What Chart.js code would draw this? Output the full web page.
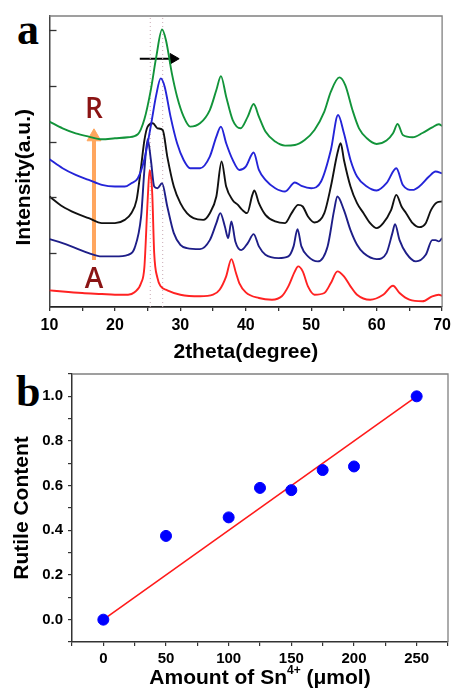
<!DOCTYPE html>
<html>
<head>
<meta charset="utf-8">
<script src="https://cdn.jsdelivr.net/npm/chart.js@4.4.1/dist/chart.umd.min.js"></script>
<style>
body{margin:0;background:#fff;width:456px;height:689px;position:relative;overflow:hidden;}
canvas{position:absolute;left:0;}
#xrd{top:0;}
#rutile{top:360px;}
.panel{position:absolute;font-family:"Liberation Serif","DejaVu Serif",serif;font-weight:bold;font-size:44px;line-height:1;}
</style>
</head>
<body>
<div class="panel" style="left:17px;top:8px">a</div>
<div class="panel" style="left:16px;top:370px">b</div>
<canvas id="xrd" width="456" height="365"></canvas>
<canvas id="rutile" width="456" height="329"></canvas>
<script>
//////////////////////////////// DATA : XRD PATTERNS (a)

// 2theta / intensity (a.u.) for each pattern, bottom (anatase) to top (rutile)
let redX = [10,12,15,18,20,22,23,24,24.5,25,25.3,25.7,26,26.5,27,28,30,33,35,36,37,37.8,38.5,39,40,42,44,45.5,46.5,47.5,48,48.7,49.5,50.5,52,53,54,55,56,57,59,61,62.5,63.5,65,67,68.5,69.5,70];
let redY = [16.7,15.5,14,13,12.3,12.3,14.7,24,40,107,137,114,54,29,20.7,16.7,12.3,10.7,12.3,17.3,30.7,48,34,24,14.7,9,7.3,10.7,20.7,35.7,40.7,35.7,20.7,12.3,14,24,35.7,30.7,20.7,12.3,7.3,12.3,21.3,14,7.3,5.7,10.7,12.3,11.3];

let navyX = [10,12,14,16,18,20,22,23,24,24.5,25,25.5,26,26.5,27.2,28,29,30,31,33,34.5,35.5,36.1,36.8,37.3,37.8,38.4,39.3,40.3,41.2,42,43,45,46.5,47.3,47.9,48.5,49.5,51,52.5,53.5,54,55,56,57,58,60,61.5,62.4,62.8,63.5,64.5,66,67.5,68.5,69,69.5,70];
let navyY = [68,64,59,54,50.7,50.7,52.3,59,90.7,137,168,147,120.7,119,124,100.7,74,62.3,59,58,67,84,94,80.7,69,85.7,65.7,57,64,73,60.7,52.3,49,50.7,60.7,78,60.7,50.7,45.7,60.7,97,110.7,97,77,62.3,54,48,54,74,83,67,54,45.7,52.3,67,67,65.7,69];

let blackX = [10,12,14,16,18,20,21.5,22.5,23.3,24,24.5,25,25.8,26.5,27.3,28,29,30,31,32,33.5,34.5,35.5,36.3,37,38,38.8,39.5,40.2,41,41.3,42,43,44.5,46,47,48,48.7,49.5,50.5,52,53,54,54.5,55,56,57,58,59,60,61,62.2,63,63.8,64.5,65.5,66.5,67.5,68.3,69.2,70];
let blackY = [110.7,100.7,94,89,84,84,87.3,94,107,140.7,167,180.7,184,179,177.3,150.7,120.7,104,94,89,87.3,94,110.7,145.7,120.7,107,102.3,97,94,112.3,116.7,104,92.3,85.7,84,94,102.3,100.7,90.7,84.7,94,120.7,154,164,147.3,120.7,104,94,84,79,84,97,112.3,100.7,94,84,80,84,97,104.7,105.7];

let blueX = [10,12,14,16,18,20,21.5,22.5,23.5,24.5,25.5,26.3,27,27.6,28.5,29.5,30.5,31.5,33,34.5,35.5,36.2,37,38,39,40,41.2,42,43,44.5,46,47.5,48.5,50,51.5,53,54.1,55,56,57,58.5,60,61.5,63,64,65.5,66.5,68,69,70];
let blueY = [148,139,132.3,127.3,122.3,120.7,120.7,124,129,148,182,212,229,220.7,190.7,164,147.3,139,139,150.7,170.7,180.7,164,147.3,137.3,140.7,154.7,137.3,127.3,119,115.7,124.7,121.3,119,125.7,157.3,192.3,174,147.3,130.7,120.7,116.7,124,139,122.3,117.3,120.7,130.7,135.7,134];

let greenX = [10,12,14,16,18,20,22,23.5,24.5,25.5,26.3,27.2,27.8,28.7,29.5,30.5,31.5,33,34.5,35.5,36.2,37,38,39.2,40.3,41.2,42,43,44.5,46,47.5,49,50.5,52,53,54.3,55.2,56.3,57.3,58.5,60,61.5,62.5,63.2,64,65.5,67,68.5,69.5,70];
let greenY = [185.7,179,174,170.7,168,169,170,173,188,218,250,278,267.3,234,210.7,190.7,180.7,184,197.3,217.3,231.3,210.7,187.3,179,190.7,203.3,190.7,175.7,165.7,161.7,162.3,167.3,177.3,195.7,215.7,230,222.3,197.3,179,169,163.3,166.7,174,183.3,172.3,170,174.3,180,183,181.3];

// axis ticks (no labels on intensity)
let intensityTicks = [54, 110, 165.7, 221.7, 277.3];
let intensityMax = 291.5;

// guides : dotted peak positions, shift arrow, A -> R arrow
let shiftLines = [25.4, 27.3];
let shiftArrowX = [23.8, 28.9];
let shiftArrowY = [248.7, 248.7];
let phaseArrowX = [16.8, 16.8];
let phaseArrowY = [47, 170.5];
let phaseLabels = ["A", "R"];
let phaseLabelY = [27, 197];

//////////////////////////////// DATA : RUTILE CONTENT (b)

let snAmount = [0, 50, 100, 125, 150, 175, 200, 250];
let rutileContent = [0, 0.375, 0.458, 0.59, 0.58, 0.67, 0.686, 1.0];
let fitX = [0, 250];
let fitY = [0, 1.0];
// x title, drawn in three pieces for the superscript
let snTitleParts = ["Amount of Sn", "4+", " (\u03BCmol)"];

//////////////////////////////// COMMON

Chart.defaults.font.family = '"Liberation Sans", Arial, sans-serif';
Chart.defaults.color = '#000';

function pts(xs, ys) {
    return xs.map((x, i) => ({x: x, y: ys[i]}));
}

// grey top + right edges of the frame
const framePlugin = {
    id: 'frame',
    afterDraw(chart) {
        const c = chart.ctx, a = chart.chartArea;
        c.save();
        c.strokeStyle = '#808080';
        c.lineWidth = 1.3;
        c.beginPath();
        c.moveTo(a.left, a.top);
        c.lineTo(a.right, a.top);
        c.lineTo(a.right, a.bottom);
        c.stroke();
        c.restore();
    }
};

//////////////////////////////// GRAPH a : XRD

const inwardTicks = {
    id: 'inwardTicks',
    afterDraw(chart) {
        const c = chart.ctx, a = chart.chartArea, y = chart.scales.y;
        c.save();
        c.strokeStyle = '#333';
        c.lineWidth = 1.3;
        intensityTicks.forEach(v => {
            const py = Math.round(y.getPixelForValue(v)) + 0.5;
            c.beginPath();
            c.moveTo(a.left, py);
            c.lineTo(a.left + 7, py);
            c.stroke();
        });
        c.restore();
    }
};

const phaseText = {
    id: 'phaseText',
    afterDatasetsDraw(chart) {
        const c = chart.ctx, x = chart.scales.x, y = chart.scales.y;
        c.save();
        c.fillStyle = '#8b1414';
        c.font = '600 28px "Open Sans", "Liberation Sans", sans-serif';
        c.textAlign = 'center';
        c.textBaseline = 'middle';
        phaseLabels.forEach((t, i) => {
            c.fillText(t, x.getPixelForValue(phaseArrowX[0]), y.getPixelForValue(phaseLabelY[i]));
        });
        c.restore();
    }
};

let curves = [
    {x: greenX, y: greenY, color: '#12943a'},
    {x: blueX, y: blueY, color: '#2424d8'},
    {x: blackX, y: blackY, color: '#111111'},
    {x: navyX, y: navyY, color: '#1e1e88'},
    {x: redX, y: redY, color: '#ff2222'}
];

let xrdSets = curves.map(cv => ({
    data: pts(cv.x, cv.y),
    borderColor: cv.color,
    borderWidth: 1.9,
    pointRadius: 0,
    cubicInterpolationMode: 'monotone',
    fill: false
}));

shiftLines.forEach(sx => {
    xrdSets.push({
        data: [{x: sx, y: 0}, {x: sx, y: intensityMax}],
        borderColor: '#c9a9b4',
        borderWidth: 1,
        borderDash: [1, 3],
        pointRadius: 0
    });
});

xrdSets.push({
    data: pts(shiftArrowX, shiftArrowY),
    borderColor: '#000',
    borderWidth: 2,
    pointRadius: [0, 6],
    pointStyle: 'triangle',
    pointRotation: [0, 90],
    pointBackgroundColor: '#000',
    pointBorderColor: '#000',
    pointBorderWidth: 1
});

xrdSets.push({
    data: pts(phaseArrowX, phaseArrowY),
    borderColor: '#ffa65e',
    borderWidth: 4,
    pointRadius: [0, 8],
    pointStyle: 'triangle',
    pointRotation: 0,
    pointBackgroundColor: '#ffa65e',
    pointBorderColor: '#ffa65e',
    pointBorderWidth: 1
});

let xrdChart = new Chart(document.getElementById('xrd'), {
    type: 'line',
    data: {datasets: xrdSets},
    options: {
        responsive: false,
        animation: false,
        devicePixelRatio: 1,
        layout: {padding: {top: 16, right: 8, left: 0, bottom: 0}},
        plugins: {legend: {display: false}, tooltip: {enabled: false}},
        scales: {
            x: {
                type: 'linear',
                min: 10,
                max: 70,
                afterFit: s => { s.height = 58; },
                grid: {display: true, drawOnChartArea: false, drawTicks: true, tickLength: 4, color: '#333', lineWidth: 1.3},
                border: {display: true, color: '#222', width: 1.8},
                ticks: {
                    stepSize: 5,
                    autoSkip: false,
                    maxRotation: 0,
                    padding: 5,
                    font: {size: 16, weight: 'bold'},
                    callback: v => (v % 10 === 0 ? v : '')
                },
                title: {display: true, text: '2theta(degree)', font: {size: 21, weight: 'bold'}, padding: {top: 0, bottom: 0}}
            },
            y: {
                type: 'linear',
                min: 0,
                max: intensityMax,
                afterFit: s => { s.width = 49.5; },
                afterBuildTicks: s => { s.ticks = intensityTicks.map(v => ({value: v})); },
                grid: {display: false},
                border: {display: true, color: '#444', width: 1.5},
                ticks: {display: false},
                title: {display: true, text: 'Intensity(a.u.)\u2002\u2002\u2002', font: {size: 21, weight: 'bold'}, padding: {top: 12, bottom: 0}}
            }
        }
    },
    plugins: [framePlugin, inwardTicks, phaseText]
});

//////////////////////////////// GRAPH b : RUTILE CONTENT

const snTitle = {
    id: 'snTitle',
    afterDraw(chart) {
        const c = chart.ctx, a = chart.chartArea;
        const big = 'bold 21px "Liberation Sans", Arial, sans-serif';
        const small = 'bold 12px "Liberation Sans", Arial, sans-serif';
        const fonts = [big, small, big];
        const rise = [0, -10, 0];
        c.save();
        c.fillStyle = '#000';
        c.textBaseline = 'alphabetic';
        c.textAlign = 'left';
        let widths = snTitleParts.map((t, i) => { c.font = fonts[i]; return c.measureText(t).width; });
        let total = widths.reduce((s, w) => s + w, 0);
        let px = (a.left + a.right) / 2 - total / 2;
        const base = chart.height - 5;
        snTitleParts.forEach((t, i) => {
            c.font = fonts[i];
            c.fillText(t, px, base + rise[i]);
            px += widths[i];
        });
        c.restore();
    }
};

let rutileChart = new Chart(document.getElementById('rutile'), {
    type: 'scatter',
    data: {
        datasets: [
            {
                data: pts(snAmount, rutileContent),
                backgroundColor: '#0000ff',
                borderColor: '#0000ff',
                pointRadius: 5.5,
                showLine: false
            },
            {
                data: pts(fitX, fitY),
                borderColor: '#ff1a1a',
                borderWidth: 1.6,
                pointRadius: 0,
                showLine: true
            }
        ]
    },
    options: {
        responsive: false,
        animation: false,
        devicePixelRatio: 1,
        layout: {padding: {top: 10, right: 8, left: 0, bottom: 0}},
        plugins: {legend: {display: false}, tooltip: {enabled: false}},
        scales: {
            x: {
                type: 'linear',
                min: -25,
                max: 275,
                afterFit: s => { s.height = 47; },
                grid: {display: true, drawOnChartArea: false, drawTicks: true, tickLength: 4, color: '#333', lineWidth: 1.2},
                border: {display: true, color: '#333', width: 1.5},
                ticks: {
                    stepSize: 25,
                    autoSkip: false,
                    maxRotation: 0,
                    padding: 4,
                    font: {size: 15, weight: 'bold'},
                    callback: v => (v % 50 === 0 ? v : '')
                },
                title: {display: false}
            },
            y: {
                type: 'linear',
                min: -0.1,
                max: 1.1,
                afterFit: s => { s.width = 72; },
                grid: {display: true, drawOnChartArea: false, drawTicks: true, tickLength: 4, color: '#333', lineWidth: 1.2},
                border: {display: true, color: '#333', width: 1.5},
                ticks: {
                    stepSize: 0.1,
                    autoSkip: false,
                    padding: 5,
                    font: {size: 15, weight: 'bold'},
                    callback: v => {
                        const k = Math.round(v * 10);
                        return (k % 2 === 0 && k >= 0 && k <= 10) ? (k / 10).toFixed(1) : '';
                    }
                },
                title: {display: true, text: 'Rutile Content', font: {size: 21, weight: 'bold'}, padding: {top: 10, bottom: 0}}
            }
        }
    },
    plugins: [framePlugin, snTitle]
});
</script>
</body>
</html>
